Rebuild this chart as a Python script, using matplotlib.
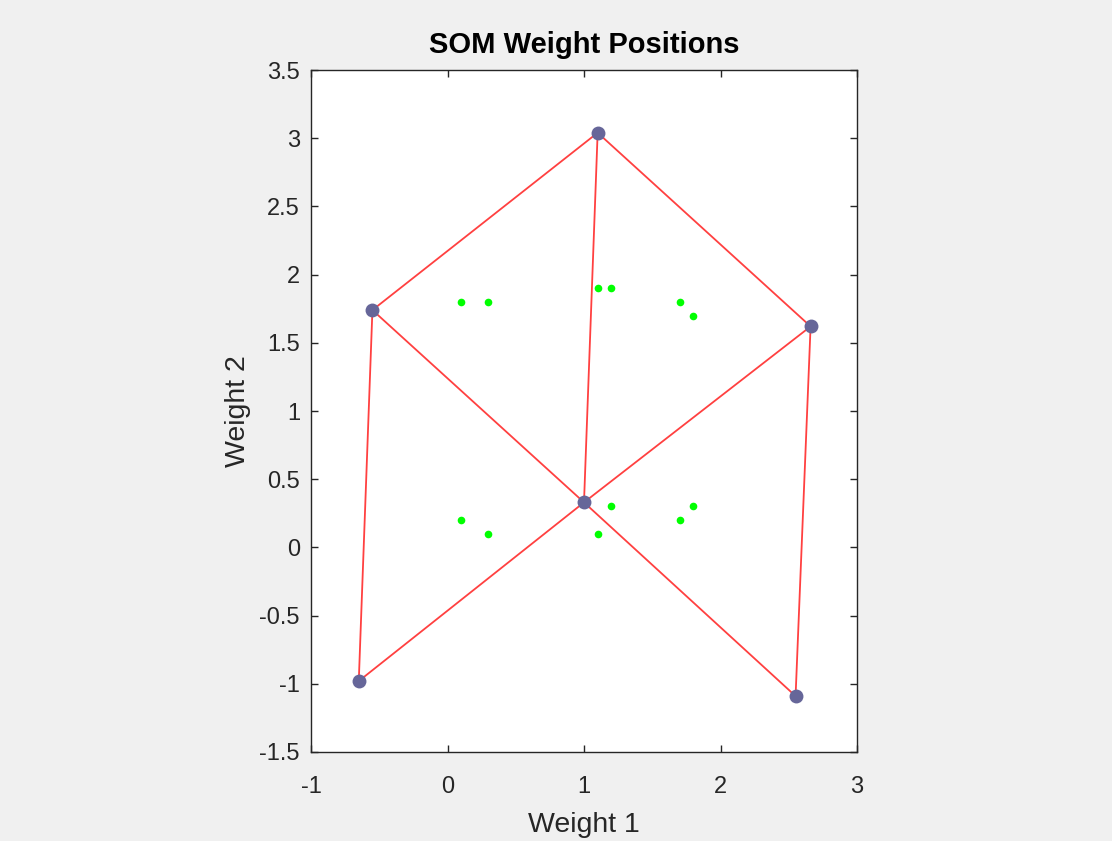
import numpy as np
import matplotlib.pyplot as plt

plt.rcParams['font.family'] = ['Liberation Sans', 'DejaVu Sans']

# neuron weight positions (Weight 1, Weight 2)
w1 = [1.10, -0.55, 2.66, 1.00, -0.65, 2.55]
w2 = [3.04, 1.74, 1.62, 0.33, -0.98, -1.09]

# neighbour links between neurons (indices into w1/w2)
links = [(0, 1), (0, 2), (0, 3), (1, 3), (2, 3), (1, 4), (3, 4), (2, 5), (3, 5)]

# input samples
px = [0.1, 0.3, 1.1, 1.2, 1.7, 1.8, 0.1, 0.3, 1.1, 1.2, 1.7, 1.8]
py = [1.8, 1.8, 1.9, 1.9, 1.8, 1.7, 0.2, 0.1, 0.1, 0.3, 0.2, 0.3]

xticks = [-1, 0, 1, 2, 3]
yticks = [-1.5, -1, -0.5, 0, 0.5, 1, 1.5, 2, 2.5, 3, 3.5]

dark = '#262626'

fig = plt.figure(figsize=(11.12, 8.41), dpi=100, facecolor='#f0f0f0')
ax = fig.add_axes([311 / 1112, 1 - 752 / 841, 546 / 1112, 682 / 841])
ax.set_facecolor('white')

ax.plot(px, py, 'o', color='#00ff00', markersize=5.5, markeredgewidth=0, zorder=2)
for a, b in links:
    ax.plot([w1[a], w1[b]], [w2[a], w2[b]], '-', color='#ff4040', linewidth=1.3, zorder=3)
ax.plot(w1, w2, 'o', color='#666699', markersize=10, markeredgewidth=0, zorder=4)

ax.set_xlim(-1, 3)
ax.set_ylim(-1.5, 3.5)
ax.set_xticks(xticks)
ax.set_yticks(yticks)
ax.set_xticklabels([f'{t:g}' for t in xticks])
ax.set_yticklabels([f'{t:g}' for t in yticks])

ax.tick_params(direction='in', length=5, width=1, colors=dark, labelsize=17,
               top=True, right=True, pad=8)
ax.tick_params(axis='x', pad=17)
for s in ax.spines.values():
    s.set_color(dark)
    s.set_linewidth(1)

ax.set_xlabel('Weight 1', fontsize=20.5, color=dark, labelpad=10)
ax.set_ylabel('Weight 2', fontsize=20.5, color=dark, labelpad=6)
ax.set_title('SOM Weight Positions', fontsize=21, fontweight='bold', color='black', pad=12)

fig.savefig('out.png', dpi=100, facecolor=fig.get_facecolor())
